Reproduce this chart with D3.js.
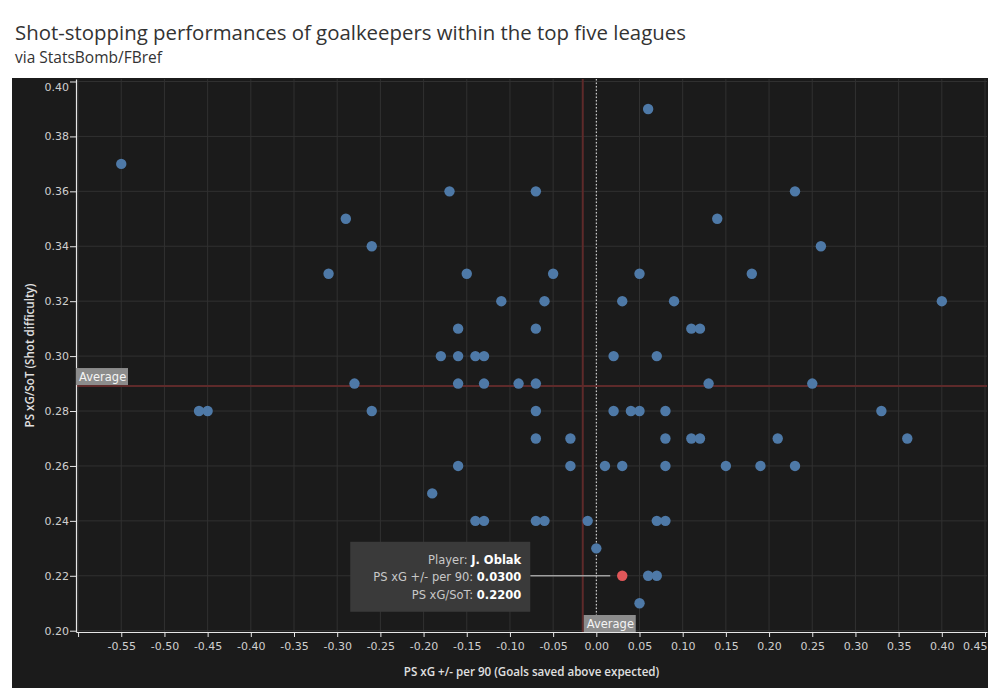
<!DOCTYPE html>
<meta charset="utf-8">
<style>
body {
  margin: 0;
  background: #fff;
}
svg {
  display: block;
}
</style>
<script src="https://cdnjs.cloudflare.com/ajax/libs/d3/7.8.5/d3.min.js"></script>
<body></body>
<script>

var width = 1000;
var height = 700;

// goals saved above expected per 90 (x) and PS xG per shot on target (y)
var xgPer90 = [
  -0.55, 0.06, -0.17, -0.07, 0.23, -0.29, 0.14, -0.26, 0.26,
  -0.31, -0.15, -0.05, 0.05, 0.18,
  -0.11, -0.06, 0.03, 0.09, 0.40,
  -0.16, -0.07, 0.11, 0.12,
  -0.18, -0.16, -0.14, -0.13, 0.02, 0.07,
  -0.28, -0.16, -0.13, -0.09, -0.07, 0.13, 0.25,
  -0.46, -0.45, -0.26, -0.07, 0.02, 0.04, 0.05, 0.08, 0.33,
  -0.07, -0.03, 0.08, 0.11, 0.12, 0.21, 0.36,
  -0.16, -0.03, 0.01, 0.03, 0.08, 0.15, 0.19, 0.23,
  -0.19,
  -0.14, -0.13, -0.07, -0.06, -0.01, 0.07, 0.08,
  0.00,
  0.06, 0.07,
  0.05,
  0.03
];
var xgPerSoT = [
  0.37, 0.39, 0.36, 0.36, 0.36, 0.35, 0.35, 0.34, 0.34,
  0.33, 0.33, 0.33, 0.33, 0.33,
  0.32, 0.32, 0.32, 0.32, 0.32,
  0.31, 0.31, 0.31, 0.31,
  0.30, 0.30, 0.30, 0.30, 0.30, 0.30,
  0.29, 0.29, 0.29, 0.29, 0.29, 0.29, 0.29,
  0.28, 0.28, 0.28, 0.28, 0.28, 0.28, 0.28, 0.28, 0.28,
  0.27, 0.27, 0.27, 0.27, 0.27, 0.27, 0.27,
  0.26, 0.26, 0.26, 0.26, 0.26, 0.26, 0.26, 0.26,
  0.25,
  0.24, 0.24, 0.24, 0.24, 0.24, 0.24, 0.24,
  0.23,
  0.22, 0.22,
  0.21,
  0.22
];
var highlightName = 'J. Oblak';
var highlightIndex = xgPer90.length - 1;

var avgX = -0.0157;
var avgY = 0.2891;

var xTicks = [-0.60, -0.55, -0.50, -0.45, -0.40, -0.35, -0.30, -0.25, -0.20, -0.15, -0.10, -0.05,
  0.00, 0.05, 0.10, 0.15, 0.20, 0.25, 0.30, 0.35, 0.40, 0.45];
var yTicks = [0.20, 0.22, 0.24, 0.26, 0.28, 0.30, 0.32, 0.34, 0.36, 0.38, 0.40];

var titleText = 'Shot-stopping performances of goalkeepers within the top five leagues';
var subtitleText = 'via StatsBomb/FBref';
var xTitle = 'PS xG +/- per 90 (Goals saved above expected)';
var yTitle = 'PS xG/SoT (Shot difficulty)';

var points = xgPer90.map(function (v, i) {
  return { x: v, y: xgPerSoT[i], hi: i === highlightIndex };
});

var plot = { left: 76, right: 987, top: 79, bottom: 632 };

var x = d3.scaleLinear().domain([-0.6024, 0.4523]).range([plot.left, plot.right]);
var y = d3.scaleLinear().domain([0.19953, 0.40091]).range([plot.bottom, plot.top]);

var font = '"Open Sans", sans-serif';
var smallFont = '"DejaVu Sans", sans-serif';

// plain hyphen instead of the unicode minus
var fmt2 = function (d) { return d3.format('.2f')(d).replace('\u2212', '-'); };

var svg = d3.select('body').append('svg')
  .attr('width', width)
  .attr('height', height)
  .style('font-family', font);

// titles
svg.append('text')
  .attr('x', 15).attr('y', 40)
  .attr('fill', '#333')
  .style('font-size', '20.4px')
  .text(titleText);
svg.append('text')
  .attr('x', 15).attr('y', 63)
  .attr('fill', '#333')
  .style('font-size', '15.5px')
  .text(subtitleText);

// dark panel
svg.append('rect')
  .attr('x', 12).attr('y', 78)
  .attr('width', 976).attr('height', 610)
  .attr('fill', '#1b1b1b');

// grid
var grid = svg.append('g');
grid.selectAll('.gx').data(xTicks).enter().append('line')
  .attr('x1', function (d) { return x(d); })
  .attr('x2', function (d) { return x(d); })
  .attr('y1', plot.top).attr('y2', plot.bottom)
  .attr('stroke', '#313131').attr('stroke-width', 1);
grid.selectAll('.gy').data(yTicks).enter().append('line')
  .attr('x1', plot.left).attr('x2', plot.right)
  .attr('y1', function (d) { return y(d); })
  .attr('y2', function (d) { return y(d); })
  .attr('stroke', '#313131').attr('stroke-width', 1);

// zero line (dotted)
svg.append('line')
  .attr('x1', x(0)).attr('x2', x(0))
  .attr('y1', plot.top).attr('y2', plot.bottom)
  .attr('stroke', '#e8e8e8').attr('stroke-width', 1)
  .attr('stroke-dasharray', '1.5,2');

// average reference lines
svg.append('line')
  .attr('x1', plot.left).attr('x2', plot.right)
  .attr('y1', y(avgY)).attr('y2', y(avgY))
  .attr('stroke', '#5e2a2a').attr('stroke-width', 2);
svg.append('line')
  .attr('x1', x(avgX)).attr('x2', x(avgX))
  .attr('y1', plot.top).attr('y2', plot.bottom)
  .attr('stroke', '#5e2a2a').attr('stroke-width', 2);

// axes
var yAxis = d3.axisLeft(y).tickValues(yTicks).tickSize(6).tickSizeOuter(0)
  .tickFormat(fmt2);
var xAxis = d3.axisBottom(x).tickValues(xTicks).tickSize(5).tickSizeOuter(0)
  .tickFormat(function (d) { return d < -0.575 ? '' : fmt2(d); });

var gy = svg.append('g')
  .attr('transform', 'translate(' + plot.left + ',0)')
  .call(yAxis);
var gx = svg.append('g')
  .attr('transform', 'translate(0,' + plot.bottom + ')')
  .call(xAxis);

[gx, gy].forEach(function (g) {
  g.select('.domain').attr('stroke', '#e6e6e6').attr('stroke-width', 1.2);
  g.selectAll('.tick line').attr('stroke', '#e6e6e6');
  g.selectAll('.tick text')
    .attr('fill', '#cfcfcf')
    .style('font-family', smallFont)
    .style('font-size', '11px');
});
gy.selectAll('.tick text').attr('x', -7)
  .attr('dy', function (d) { return d > 0.399 ? '0.85em' : '0.32em'; });
gx.selectAll('.tick text').attr('y', 10)
  .attr('text-anchor', function (d) { return d > 0.449 ? 'end' : 'middle'; })
  .attr('dx', function (d) { return d > 0.449 ? 2 : 0; });

// axis titles
svg.append('text')
  .attr('x', (plot.left + plot.right) / 2).attr('y', 676)
  .attr('text-anchor', 'middle')
  .attr('fill', '#e0e0e0')
  .style('font-size', '11.6px')
  .style('font-weight', 600)
  .text(xTitle);
svg.append('text')
  .attr('transform', 'translate(34,' + (plot.top + plot.bottom) / 2 + ') rotate(-90)')
  .attr('text-anchor', 'middle')
  .attr('fill', '#e0e0e0')
  .style('font-size', '11.6px')
  .style('font-weight', 600)
  .text(yTitle);

// points
svg.append('g').selectAll('circle')
  .data(points)
  .enter().append('circle')
  .attr('cx', function (d) { return x(d.x); })
  .attr('cy', function (d) { return y(d.y); })
  .attr('r', 5.2)
  .attr('fill', function (d) { return d.hi ? '#e15759' : '#4e79a7'; });

// "Average" labels
function avgLabel(lx, ly) {
  var g = svg.append('g').attr('transform', 'translate(' + lx + ',' + ly + ')');
  g.append('rect').attr('width', 52).attr('height', 17).attr('fill', '#8c8c8c');
  g.append('text').attr('x', 3).attr('y', 13)
    .attr('fill', '#f4f4f4')
    .style('font-family', smallFont)
    .style('font-size', '11.5px')
    .text('Average');
}
avgLabel(plot.left, y(avgY) - 18);
avgLabel(x(avgX) + 1, plot.bottom - 17);

// tooltip annotation for highlighted player
var hp = points[highlightIndex];
var tipRight = x(hp.x) - 92;
var tipTop = y(hp.y) - 34;
svg.append('line')
  .attr('x1', tipRight).attr('x2', x(hp.x) - 12)
  .attr('y1', y(hp.y)).attr('y2', y(hp.y))
  .attr('stroke', '#a0a0a0').attr('stroke-width', 1.5);
svg.append('rect')
  .attr('x', tipRight - 180).attr('y', tipTop)
  .attr('width', 180).attr('height', 70)
  .attr('fill', '#3a3a3a');
var tipLines = [
  ['Player: ', highlightName],
  ['PS xG +/- per 90: ', d3.format('.4f')(hp.x)],
  ['PS xG/SoT: ', d3.format('.4f')(hp.y)]
];
tipLines.forEach(function (l, i) {
  var t = svg.append('text')
    .attr('x', tipRight - 9).attr('y', tipTop + 22 + i * 17.5)
    .attr('text-anchor', 'end')
    .style('font-family', smallFont)
    .style('font-size', '11.5px');
  t.append('tspan').attr('fill', '#c8c8c8').text(l[0]);
  t.append('tspan').attr('fill', '#ffffff').style('font-weight', 700).text(l[1]);
});

</script>
